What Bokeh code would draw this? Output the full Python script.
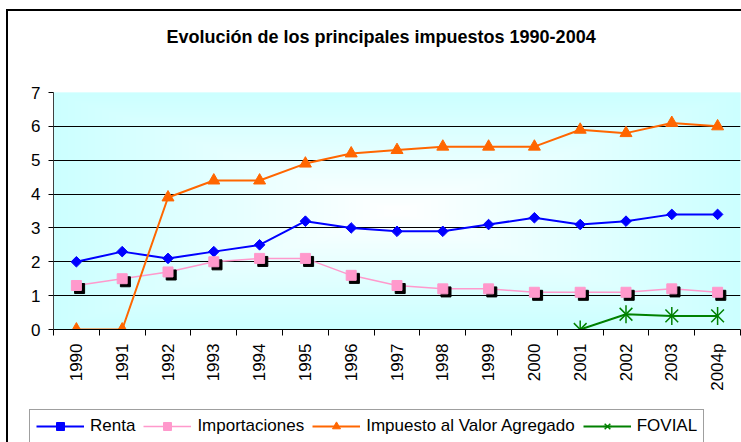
import math
import numpy as np
from bokeh.plotting import figure
from bokeh.layouts import column
from bokeh.models import (ColumnDataSource, Range1d, FixedTicker, Legend, LegendItem)
from bokeh.transform import dodge
from bokeh.embed import file_html
from bokeh.resources import INLINE

# ---------------- data ----------------
years = ["1990", "1991", "1992", "1993", "1994", "1995", "1996", "1997",
         "1998", "1999", "2000", "2001", "2002", "2003", "2004p"]
renta = [2.0, 2.3, 2.1, 2.3, 2.5, 3.2, 3.0, 2.9, 2.9, 3.1, 3.3, 3.1, 3.2, 3.4, 3.4]
importaciones = [1.3, 1.5, 1.7, 2.0, 2.1, 2.1, 1.6, 1.3, 1.2, 1.2, 1.1, 1.1, 1.1, 1.2, 1.1]
iva = [0.0, 0.0, 3.9, 4.4, 4.4, 4.9, 5.2, 5.3, 5.4, 5.4, 5.4, 5.9, 5.8, 6.1, 6.0]
fovial = [None] * 11 + [0.0, 0.45, 0.4, 0.4]
series_names = ["Renta", "Importaciones", "Impuesto al Valor Agregado", "FOVIAL"]
y_ticks = [0, 1, 2, 3, 4, 5, 6, 7]
title_text = "Evolución de los principales impuestos 1990-2004"

FONT = "Liberation Sans"
BLUE, PINK, ORANGE, GREEN = "#0000FF", "#FF99CC", "#FF6600", "#008000"

n = len(years)
xpos = [i + 0.5 for i in range(n)]
src = ColumnDataSource(dict(
    x=xpos,
    renta=renta,
    imp=importaciones,
    iva=iva,
    fov=[np.nan if v is None else v for v in fovial],
))

# ---------------- main chart ----------------
p = figure(frame_width=685, frame_height=235, output_backend="svg", toolbar_location=None,
           x_range=Range1d(0, n), y_range=Range1d(0, 7),
           min_border_left=45, min_border_right=3, min_border_top=81, min_border_bottom=0,
           styles={"margin-left": "6px", "margin-top": "9px",
                   "border-left": "2px solid black", "border-top": "2px solid black"})
p.outline_line_color = None
p.background_fill_color = "#CCFFFF"
p.border_fill_color = "white"

# blank trailing lines lift the title line towards the top of the chart box
p.title.text = title_text + "\n \n "
p.title.align = "left"
p.title.offset = 113
p.title.standoff = 12
p.title.text_font = FONT
p.title.text_font_style = "bold"
p.title.text_font_size = "18px"
p.title.text_color = "black"

# gradient background (from center, rectangular)
W, H = 300, 140
u = np.abs(np.linspace(-1, 1, W))[None, :]
v = np.abs(np.linspace(-1, 1, H))[:, None]
t = np.clip(np.maximum(u, v), 0, 1)
img = np.empty((H, W), dtype=np.uint32)
view = img.view(dtype=np.uint8).reshape((H, W, 4))
view[:, :, 0] = (255 - (255 - 204) * t).astype(np.uint8)
view[:, :, 1] = 255
view[:, :, 2] = 255
view[:, :, 3] = 255
p.image_rgba(image=[img], x=0, y=0, dw=n, dh=7, level="image")

# axes
xa = p.xaxis[0]
xa.ticker = FixedTicker(ticks=xpos, minor_ticks=list(range(n + 1)))
xa.major_label_overrides = {x: yr for x, yr in zip(xpos, years)}
xa.major_tick_line_color = None
xa.major_tick_out = 0
xa.major_tick_in = 0
xa.minor_tick_line_color = "black"
xa.minor_tick_out = 6
xa.minor_tick_in = 0
xa.axis_line_color = "black"
xa.major_label_orientation = math.pi / 2
xa.major_label_standoff = 8
xa.major_label_text_font = FONT
xa.major_label_text_font_size = "17px"
xa.major_label_text_color = "black"

ya = p.yaxis[0]
ya.ticker = FixedTicker(ticks=y_ticks)
ya.minor_tick_line_color = None
ya.major_tick_out = 5
ya.major_tick_in = 0
ya.major_tick_line_color = "black"
ya.axis_line_color = "#404040"
ya.major_label_standoff = 8
ya.major_label_text_font = FONT
ya.major_label_text_font_size = "17px"
ya.major_label_text_color = "black"

p.xgrid.grid_line_color = None
p.ygrid.ticker = FixedTicker(ticks=y_ticks[1:-1])
p.ygrid.grid_line_color = "black"
p.ygrid.grid_line_width = 1

# series
p.line("x", "renta", source=src, color=BLUE, line_width=2)
p.scatter("x", "renta", source=src, marker="square", angle=math.pi / 4, size=7.5,
          fill_color=BLUE, line_color=BLUE)

p.line("x", "imp", source=src, color=PINK, line_width=1.5)
p.scatter(dodge("x", 0.07), dodge("imp", -0.09), source=src, marker="square", size=10,
          fill_color="black", line_color="black")
p.scatter("x", "imp", source=src, marker="square", size=10, fill_color=PINK, line_color=PINK)

p.line("x", "iva", source=src, color=ORANGE, line_width=2)
p.scatter("x", "iva", source=src, marker="triangle", size=12, fill_color=ORANGE, line_color=ORANGE)

p.line("x", "fov", source=src, color=GREEN, line_width=2)
p.scatter("x", "fov", source=src, marker="x", size=18, line_color=GREEN, line_width=1.5)
p.scatter("x", "fov", source=src, marker="dash", angle=math.pi / 2, size=18,
          line_color=GREEN, line_width=1.5)

# ---------------- legend strip (separate figure under the chart) ----------------
leg = figure(frame_width=733, frame_height=52, output_backend="svg", toolbar_location=None,
             x_range=Range1d(0, 1), y_range=Range1d(0, 1),
             x_axis_location=None, y_axis_location=None,
             min_border_left=0, min_border_right=0, min_border_top=0, min_border_bottom=0,
             styles={"margin-left": "6px", "border-left": "2px solid black"})
leg.outline_line_color = None
leg.grid.visible = False
leg.background_fill_color = "white"
leg.border_fill_color = "white"
# legend sample glyphs: a single point kept outside the visible range
ox, oy = [-5], [-5]
lr = [leg.line(x=ox, y=oy, color=BLUE, line_width=2),
      leg.scatter(x=ox, y=oy, marker="square", angle=math.pi / 4, size=7.5,
                  fill_color=BLUE, line_color=BLUE)]
li = [leg.line(x=ox, y=oy, color=PINK, line_width=1.5),
      leg.scatter(x=ox, y=oy, marker="square", size=10, fill_color=PINK, line_color=PINK)]
lv = [leg.line(x=ox, y=oy, color=ORANGE, line_width=2),
      leg.scatter(x=ox, y=oy, marker="triangle", size=12, fill_color=ORANGE, line_color=ORANGE)]
lf = [leg.line(x=ox, y=oy, color=GREEN, line_width=2),
      leg.scatter(x=ox, y=oy, marker="x", size=12, line_color=GREEN, line_width=1.5),
      leg.scatter(x=ox, y=oy, marker="dash", angle=math.pi / 2, size=12,
                  line_color=GREEN, line_width=1.5)]

legend = Legend(items=[LegendItem(label=name, renderers=r)
                       for name, r in zip(series_names, [lr, li, lv, lf])],
                orientation="horizontal", location=(21, 0))
legend.label_text_font = FONT
legend.label_text_font_size = "17px"
legend.label_text_color = "black"
legend.glyph_width = 48
legend.glyph_height = 20
legend.label_standoff = 6
legend.spacing = 8
legend.padding = 6
legend.margin = 0
legend.border_line_color = "#404040"
legend.border_line_width = 1.5
legend.background_fill_color = "white"
legend.background_fill_alpha = 1
leg.add_layout(legend, "center")

layout = column(p, leg, spacing=0)
open("out.html", "w").write(file_html(layout, INLINE))
